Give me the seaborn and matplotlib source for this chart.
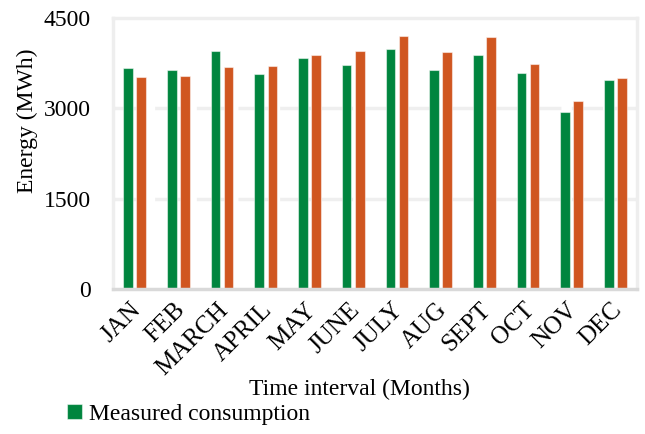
import matplotlib
matplotlib.use("Agg")
import matplotlib.pyplot as plt
import matplotlib.transforms as mtransforms
import seaborn as sns
import pandas as pd

months = ["JAN", "FEB", "MARCH", "APRIL", "MAY", "JUNE", "JULY", "AUG", "SEPT", "OCT", "NOV", "DEC"]
measured = [3675, 3626, 3944, 3560, 3829, 3713, 3983, 3626, 3884, 3582, 2933, 3472]
second = [3510, 3532, 3680, 3692, 3884, 3955, 4197, 3939, 4180, 3736, 3115, 3499]
series_names = ["Measured consumption", "Estimated consumption"]
yticks = [0, 1500, 3000, 4500]

df = pd.DataFrame({
    "Month": months * 2,
    "Energy": measured + second,
    "Series": [series_names[0]] * 12 + [series_names[1]] * 12,
})

sns.set_theme(style="white")
plt.rcParams["font.family"] = ["Liberation Serif", "DejaVu Serif"]
plt.rcParams["text.color"] = "black"
plt.rcParams["xtick.color"] = "black"
plt.rcParams["ytick.color"] = "black"
plt.rcParams["axes.labelcolor"] = "black"

fig = plt.figure(figsize=(6.45, 4.34), dpi=100)
ax = fig.add_axes([0.175, 0.334, 0.813, 0.625])

ax.set_axisbelow(True)
for v in yticks[1:3]:
    ax.axhline(v, color="#efefef", lw=2.5, ls=(0, (9, 3)), zorder=0)

sns.barplot(data=df, x="Month", y="Energy", hue="Series", order=months,
            palette=["#00853e", "#d05620"], saturation=1, width=0.6, gap=0.27,
            edgecolor=(1, 1, 1, 0.5), linewidth=0.8, ax=ax, legend=True)

ax.set_ylim(0, 4500)
ax.set_yticks(yticks)
ax.set_yticklabels([str(v) for v in yticks], fontsize=17)
ax.tick_params(axis="y", length=0, pad=16)
ax.tick_params(axis="x", length=0, pad=7)
offset = mtransforms.ScaledTranslation(-5 / 100, 0, fig.dpi_scale_trans)
for lbl in ax.get_xticklabels():
    lbl.set_rotation(45)
    lbl.set_ha("right")
    lbl.set_rotation_mode("anchor")
    lbl.set_fontsize(18)
    lbl.set_transform(lbl.get_transform() + offset)

for s in ["left", "right", "top"]:
    ax.spines[s].set_color("#eeeeee")
    ax.spines[s].set_linewidth(2.5)
ax.spines["bottom"].set_color("#d9d9d9")
ax.spines["bottom"].set_linewidth(2.5)

ax.set_ylabel("Energy (MWh)", fontsize=17)
ax.yaxis.set_label_coords(-0.143, 0.62)
ax.set_xlabel("Time interval (Months)", fontsize=17)
ax.xaxis.set_label_coords(0.47, -0.33)

handles, labels = ax.get_legend_handles_labels()
ax.legend(handles[:1], labels[:1], loc="lower left", bbox_to_anchor=(0.09, 0.0),
          bbox_transform=fig.transFigure, frameon=False, fontsize=17,
          handlelength=0.6, handleheight=0.6, handletextpad=0.3, borderaxespad=0)

fig.savefig("out.png", dpi=100)
